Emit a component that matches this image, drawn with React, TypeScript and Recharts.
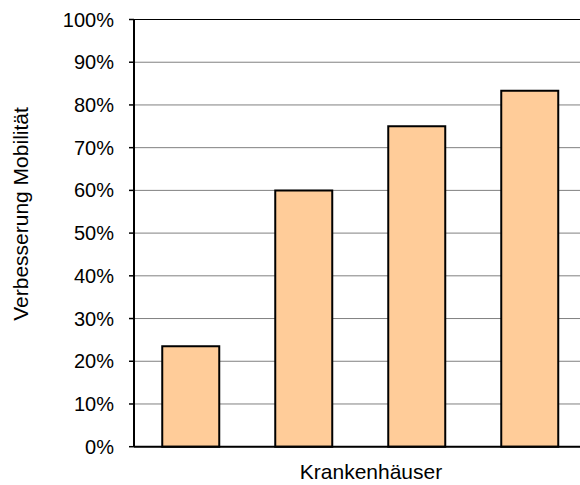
import React from 'react';
import {
  BarChart,
  Bar,
  XAxis,
  YAxis,
  CartesianGrid,
  ReferenceLine,
  Label,
} from 'recharts';

// Krankenhäuser (keine Beschriftung an der Achse)
const hospitals = ['A', 'B', 'C', 'D'];
// Verbesserung Mobilität in %
const improvement = [23.5, 60, 75, 83.3];
const yTicks = [0, 10, 20, 30, 40, 50, 60, 70, 80, 90, 100];

const chartData = hospitals.map((name, i) => ({ name, value: improvement[i] }));

const FONT = '"Liberation Sans", Arial, sans-serif';

const YTitle = () => (
  <text
    x={27.5}
    y={214}
    transform="rotate(-90, 27.5, 214)"
    textAnchor="middle"
    fontFamily={FONT}
    fontSize={21}
    fill="#000"
  >
    Verbesserung Mobilität
  </text>
);

const App: React.FC = () => {
  return (
    <div style={{ position: 'absolute', left: 0, top: 0, width: 580, height: 485, overflow: 'hidden', background: '#fff' }}>
      <BarChart
        width={600}
        height={485}
        data={chartData}
        margin={{ top: 19.5, right: 14, left: 0, bottom: 0 }}
        barCategoryGap="25%"
      >
        <CartesianGrid vertical={false} horizontal stroke="#808080" strokeWidth={1} />
        <ReferenceLine y={100} stroke="#000" strokeWidth={1.2} />
        <XAxis
          dataKey="name"
          height={38.3}
          tick={false}
          tickLine={false}
          axisLine={{ stroke: '#000', strokeWidth: 2 }}
        >
          <Label
            value="Krankenhäuser"
            position="insideBottom"
            offset={5.7}
            dx={11}
            style={{ fontFamily: FONT, fontSize: 21, fill: '#000' }}
          />
        </XAxis>
        <YAxis
          width={134}
          domain={[0, 100]}
          ticks={yTicks}
          interval={0}
          tickFormatter={(v: number) => `${v}%`}
          tickSize={5}
          tickMargin={15}
          tick={{ fontFamily: FONT, fontSize: 20, fill: '#000' }}
          tickLine={{ stroke: '#000', strokeWidth: 1.5 }}
          axisLine={{ stroke: '#000', strokeWidth: 2 }}
        >
          <Label content={<YTitle />} />
        </YAxis>
        <Bar
          dataKey="value"
          fill="#FFCC99"
          stroke="#000"
          strokeWidth={2}
          isAnimationActive={false}
        />
      </BarChart>
    </div>
  );
};

export default App;
